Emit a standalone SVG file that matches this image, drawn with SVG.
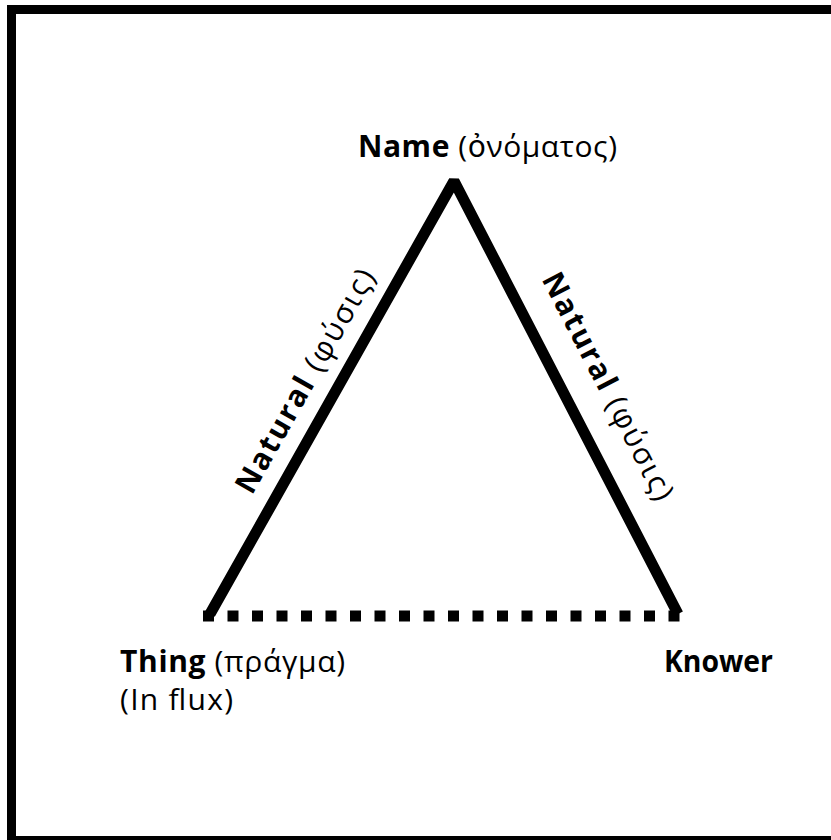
<svg xmlns="http://www.w3.org/2000/svg" width="831" height="840" viewBox="0 0 831 840">
<style>
.t{font-family:"Open Sans","Noto Sans","DejaVu Sans",sans-serif;font-size:30px;fill:#000}
.b{font-weight:bold}
</style>
<rect width="831" height="840" fill="#fff"/>
<rect x="11.5" y="9.5" width="830" height="831" fill="none" stroke="#000" stroke-width="9"/>
<g id="connectors">
<polyline points="210,614 454,181 678,614" fill="none" stroke="#000" stroke-width="11" stroke-linejoin="bevel"/>
<line x1="203" y1="616" x2="682" y2="616" stroke="#000" stroke-width="11" stroke-dasharray="11 13.5"/>
<text class="t" text-anchor="middle" textLength="252" lengthAdjust="spacing" transform="translate(314,386) rotate(-60.5)"><tspan class="b">Natural</tspan> (φύσις)</text>
<text class="t" text-anchor="middle" textLength="252" lengthAdjust="spacing" transform="translate(599,391) rotate(62.7)"><tspan class="b">Natural</tspan> (φύσις)</text>
</g>
<g id="name"><text class="t" x="358" y="157" textLength="259" lengthAdjust="spacing"><tspan class="b">Name</tspan> (ὀνόματος)</text></g>
<g id="thing"><text class="t" x="120" y="672" textLength="225" lengthAdjust="spacing"><tspan class="b">Thing</tspan> (πράγμα)</text><text class="t" x="120" y="710" textLength="113" lengthAdjust="spacing">(In flux)</text></g>
<g id="knower"><text class="t b" x="664" y="672" textLength="109" lengthAdjust="spacingAndGlyphs">Knower</text></g>
</svg>
